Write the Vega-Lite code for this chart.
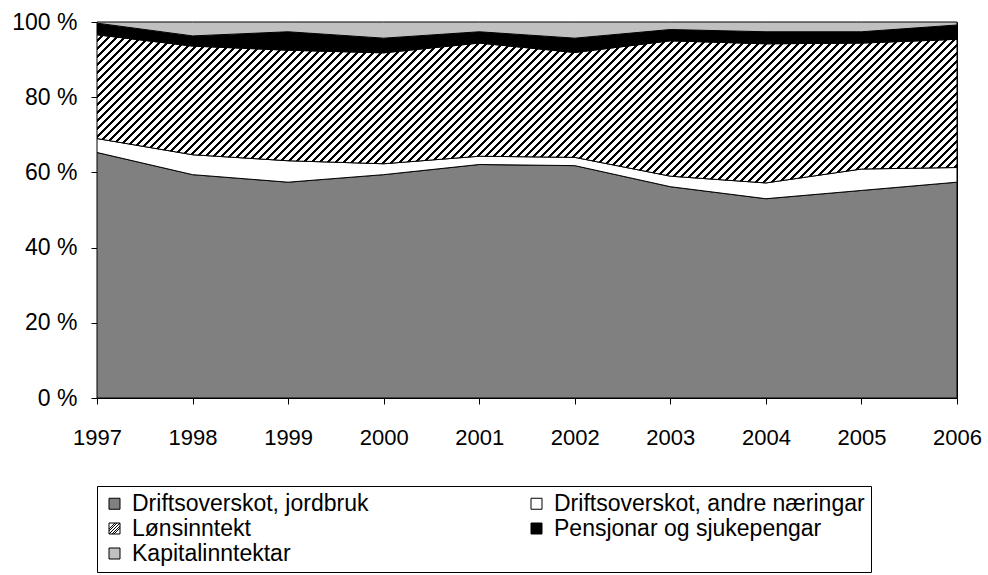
{
 "$schema": "https://vega.github.io/schema/vega-lite/v6.json",
 "autosize": {"type": "none"},
 "padding": {"left": 97, "top": 22, "right": 31, "bottom": 177},
 "width": 860,
 "height": 376,
 "background": "white",
 "config": {
  "font": "Liberation Sans",
  "view": {"stroke": "black", "strokeWidth": 1},
  "axis": {"grid": false, "domain": false, "tickColor": "black", "tickSize": 6, "labelColor": "black", "labelFontSize": 22, "labelFont": "Liberation Sans"}
 },
 "data": {"values": [
  {"year":1997,"type":"Driftsoverskot, jordbruk","v":65.3,"k":1},
  {"year":1997,"type":"Driftsoverskot, andre næringar","v":3.7,"k":2},
  {"year":1997,"type":"Lønsinntekt","v":27.6,"k":3},
  {"year":1997,"type":"Pensjonar og sjukepengar","v":3.1,"k":4},
  {"year":1997,"type":"Kapitalinntektar","v":0.3,"k":5},
  {"year":1998,"type":"Driftsoverskot, jordbruk","v":59.4,"k":1},
  {"year":1998,"type":"Driftsoverskot, andre næringar","v":5.3,"k":2},
  {"year":1998,"type":"Lønsinntekt","v":28.9,"k":3},
  {"year":1998,"type":"Pensjonar og sjukepengar","v":2.7,"k":4},
  {"year":1998,"type":"Kapitalinntektar","v":3.7,"k":5},
  {"year":1999,"type":"Driftsoverskot, jordbruk","v":57.4,"k":1},
  {"year":1999,"type":"Driftsoverskot, andre næringar","v":5.7,"k":2},
  {"year":1999,"type":"Lønsinntekt","v":29.4,"k":3},
  {"year":1999,"type":"Pensjonar og sjukepengar","v":4.9,"k":4},
  {"year":1999,"type":"Kapitalinntektar","v":2.6,"k":5},
  {"year":2000,"type":"Driftsoverskot, jordbruk","v":59.4,"k":1},
  {"year":2000,"type":"Driftsoverskot, andre næringar","v":2.9,"k":2},
  {"year":2000,"type":"Lønsinntekt","v":29.5,"k":3},
  {"year":2000,"type":"Pensjonar og sjukepengar","v":3.9,"k":4},
  {"year":2000,"type":"Kapitalinntektar","v":4.3,"k":5},
  {"year":2001,"type":"Driftsoverskot, jordbruk","v":62.1,"k":1},
  {"year":2001,"type":"Driftsoverskot, andre næringar","v":2.2,"k":2},
  {"year":2001,"type":"Lønsinntekt","v":30.1,"k":3},
  {"year":2001,"type":"Pensjonar og sjukepengar","v":3.0,"k":4},
  {"year":2001,"type":"Kapitalinntektar","v":2.6,"k":5},
  {"year":2002,"type":"Driftsoverskot, jordbruk","v":61.8,"k":1},
  {"year":2002,"type":"Driftsoverskot, andre næringar","v":2.2,"k":2},
  {"year":2002,"type":"Lønsinntekt","v":27.9,"k":3},
  {"year":2002,"type":"Pensjonar og sjukepengar","v":3.8,"k":4},
  {"year":2002,"type":"Kapitalinntektar","v":4.3,"k":5},
  {"year":2003,"type":"Driftsoverskot, jordbruk","v":56.2,"k":1},
  {"year":2003,"type":"Driftsoverskot, andre næringar","v":2.8,"k":2},
  {"year":2003,"type":"Lønsinntekt","v":36.0,"k":3},
  {"year":2003,"type":"Pensjonar og sjukepengar","v":3.0,"k":4},
  {"year":2003,"type":"Kapitalinntektar","v":2.0,"k":5},
  {"year":2004,"type":"Driftsoverskot, jordbruk","v":53.0,"k":1},
  {"year":2004,"type":"Driftsoverskot, andre næringar","v":4.2,"k":2},
  {"year":2004,"type":"Lønsinntekt","v":37.0,"k":3},
  {"year":2004,"type":"Pensjonar og sjukepengar","v":3.2,"k":4},
  {"year":2004,"type":"Kapitalinntektar","v":2.6,"k":5},
  {"year":2005,"type":"Driftsoverskot, jordbruk","v":55.2,"k":1},
  {"year":2005,"type":"Driftsoverskot, andre næringar","v":5.7,"k":2},
  {"year":2005,"type":"Lønsinntekt","v":33.5,"k":3},
  {"year":2005,"type":"Pensjonar og sjukepengar","v":3.0,"k":4},
  {"year":2005,"type":"Kapitalinntektar","v":2.6,"k":5},
  {"year":2006,"type":"Driftsoverskot, jordbruk","v":57.4,"k":1},
  {"year":2006,"type":"Driftsoverskot, andre næringar","v":3.9,"k":2},
  {"year":2006,"type":"Lønsinntekt","v":34.1,"k":3},
  {"year":2006,"type":"Pensjonar og sjukepengar","v":3.8,"k":4},
  {"year":2006,"type":"Kapitalinntektar","v":0.8,"k":5}
 ]},
 "mark": {"type": "area", "stroke": "black", "strokeWidth": 1, "interpolate": "linear"},
 "encoding": {
  "x": {"field": "year", "type": "quantitative", "scale": {"domain": [1997, 2006], "nice": false, "zero": false},
        "axis": {"values": [1997,1998,1999,2000,2001,2002,2003,2004,2005,2006], "format": "d", "title": null, "labelPadding": 23, "labelFlush": false}},
  "y": {"field": "v", "type": "quantitative", "stack": "zero", "scale": {"domain": [0, 100], "nice": false},
        "axis": {"values": [0,20,40,60,80,100], "labelExpr": "datum.value + ' %'", "title": null, "labelPadding": 14, "labelFontSize": 23}},
  "order": {"field": "k", "type": "quantitative"},
  "fill": {
   "condition": {"test": "datum.type === 'Lønsinntekt'", "value":
     {"gradient": "linear", "x1": 0, "y1": 0, "x2": 1.129, "y2": 0.194, "stops": [
{"offset":0,"color":"#fff"},{"offset":0.0048,"color":"#fff"},{"offset":0.0048,"color":"#000"},{"offset":0.008,"color":"#000"},
{"offset":0.008,"color":"#fff"},{"offset":0.0128,"color":"#fff"},{"offset":0.0128,"color":"#000"},{"offset":0.016,"color":"#000"},
{"offset":0.016,"color":"#fff"},{"offset":0.0208,"color":"#fff"},{"offset":0.0208,"color":"#000"},{"offset":0.024,"color":"#000"},
{"offset":0.024,"color":"#fff"},{"offset":0.0288,"color":"#fff"},{"offset":0.0288,"color":"#000"},{"offset":0.032,"color":"#000"},
{"offset":0.032,"color":"#fff"},{"offset":0.0368,"color":"#fff"},{"offset":0.0368,"color":"#000"},{"offset":0.04,"color":"#000"},
{"offset":0.04,"color":"#fff"},{"offset":0.0448,"color":"#fff"},{"offset":0.0448,"color":"#000"},{"offset":0.048,"color":"#000"},
{"offset":0.048,"color":"#fff"},{"offset":0.0528,"color":"#fff"},{"offset":0.0528,"color":"#000"},{"offset":0.056,"color":"#000"},
{"offset":0.056,"color":"#fff"},{"offset":0.0608,"color":"#fff"},{"offset":0.0608,"color":"#000"},{"offset":0.064,"color":"#000"},
{"offset":0.064,"color":"#fff"},{"offset":0.0688,"color":"#fff"},{"offset":0.0688,"color":"#000"},{"offset":0.072,"color":"#000"},
{"offset":0.072,"color":"#fff"},{"offset":0.0768,"color":"#fff"},{"offset":0.0768,"color":"#000"},{"offset":0.08,"color":"#000"},
{"offset":0.08,"color":"#fff"},{"offset":0.0848,"color":"#fff"},{"offset":0.0848,"color":"#000"},{"offset":0.088,"color":"#000"},
{"offset":0.088,"color":"#fff"},{"offset":0.0928,"color":"#fff"},{"offset":0.0928,"color":"#000"},{"offset":0.096,"color":"#000"},
{"offset":0.096,"color":"#fff"},{"offset":0.1008,"color":"#fff"},{"offset":0.1008,"color":"#000"},{"offset":0.104,"color":"#000"},
{"offset":0.104,"color":"#fff"},{"offset":0.1088,"color":"#fff"},{"offset":0.1088,"color":"#000"},{"offset":0.112,"color":"#000"},
{"offset":0.112,"color":"#fff"},{"offset":0.1168,"color":"#fff"},{"offset":0.1168,"color":"#000"},{"offset":0.12,"color":"#000"},
{"offset":0.12,"color":"#fff"},{"offset":0.1248,"color":"#fff"},{"offset":0.1248,"color":"#000"},{"offset":0.128,"color":"#000"},
{"offset":0.128,"color":"#fff"},{"offset":0.1328,"color":"#fff"},{"offset":0.1328,"color":"#000"},{"offset":0.136,"color":"#000"},
{"offset":0.136,"color":"#fff"},{"offset":0.1408,"color":"#fff"},{"offset":0.1408,"color":"#000"},{"offset":0.144,"color":"#000"},
{"offset":0.144,"color":"#fff"},{"offset":0.1488,"color":"#fff"},{"offset":0.1488,"color":"#000"},{"offset":0.152,"color":"#000"},
{"offset":0.152,"color":"#fff"},{"offset":0.1568,"color":"#fff"},{"offset":0.1568,"color":"#000"},{"offset":0.16,"color":"#000"},
{"offset":0.16,"color":"#fff"},{"offset":0.1648,"color":"#fff"},{"offset":0.1648,"color":"#000"},{"offset":0.168,"color":"#000"},
{"offset":0.168,"color":"#fff"},{"offset":0.1728,"color":"#fff"},{"offset":0.1728,"color":"#000"},{"offset":0.176,"color":"#000"},
{"offset":0.176,"color":"#fff"},{"offset":0.1808,"color":"#fff"},{"offset":0.1808,"color":"#000"},{"offset":0.184,"color":"#000"},
{"offset":0.184,"color":"#fff"},{"offset":0.1888,"color":"#fff"},{"offset":0.1888,"color":"#000"},{"offset":0.192,"color":"#000"},
{"offset":0.192,"color":"#fff"},{"offset":0.1968,"color":"#fff"},{"offset":0.1968,"color":"#000"},{"offset":0.2,"color":"#000"},
{"offset":0.2,"color":"#fff"},{"offset":0.2048,"color":"#fff"},{"offset":0.2048,"color":"#000"},{"offset":0.208,"color":"#000"},
{"offset":0.208,"color":"#fff"},{"offset":0.2128,"color":"#fff"},{"offset":0.2128,"color":"#000"},{"offset":0.216,"color":"#000"},
{"offset":0.216,"color":"#fff"},{"offset":0.2208,"color":"#fff"},{"offset":0.2208,"color":"#000"},{"offset":0.224,"color":"#000"},
{"offset":0.224,"color":"#fff"},{"offset":0.2288,"color":"#fff"},{"offset":0.2288,"color":"#000"},{"offset":0.232,"color":"#000"},
{"offset":0.232,"color":"#fff"},{"offset":0.2368,"color":"#fff"},{"offset":0.2368,"color":"#000"},{"offset":0.24,"color":"#000"},
{"offset":0.24,"color":"#fff"},{"offset":0.2448,"color":"#fff"},{"offset":0.2448,"color":"#000"},{"offset":0.248,"color":"#000"},
{"offset":0.248,"color":"#fff"},{"offset":0.2528,"color":"#fff"},{"offset":0.2528,"color":"#000"},{"offset":0.256,"color":"#000"},
{"offset":0.256,"color":"#fff"},{"offset":0.2608,"color":"#fff"},{"offset":0.2608,"color":"#000"},{"offset":0.264,"color":"#000"},
{"offset":0.264,"color":"#fff"},{"offset":0.2688,"color":"#fff"},{"offset":0.2688,"color":"#000"},{"offset":0.272,"color":"#000"},
{"offset":0.272,"color":"#fff"},{"offset":0.2768,"color":"#fff"},{"offset":0.2768,"color":"#000"},{"offset":0.28,"color":"#000"},
{"offset":0.28,"color":"#fff"},{"offset":0.2848,"color":"#fff"},{"offset":0.2848,"color":"#000"},{"offset":0.288,"color":"#000"},
{"offset":0.288,"color":"#fff"},{"offset":0.2928,"color":"#fff"},{"offset":0.2928,"color":"#000"},{"offset":0.296,"color":"#000"},
{"offset":0.296,"color":"#fff"},{"offset":0.3008,"color":"#fff"},{"offset":0.3008,"color":"#000"},{"offset":0.304,"color":"#000"},
{"offset":0.304,"color":"#fff"},{"offset":0.3088,"color":"#fff"},{"offset":0.3088,"color":"#000"},{"offset":0.312,"color":"#000"},
{"offset":0.312,"color":"#fff"},{"offset":0.3168,"color":"#fff"},{"offset":0.3168,"color":"#000"},{"offset":0.32,"color":"#000"},
{"offset":0.32,"color":"#fff"},{"offset":0.3248,"color":"#fff"},{"offset":0.3248,"color":"#000"},{"offset":0.328,"color":"#000"},
{"offset":0.328,"color":"#fff"},{"offset":0.3328,"color":"#fff"},{"offset":0.3328,"color":"#000"},{"offset":0.336,"color":"#000"},
{"offset":0.336,"color":"#fff"},{"offset":0.3408,"color":"#fff"},{"offset":0.3408,"color":"#000"},{"offset":0.344,"color":"#000"},
{"offset":0.344,"color":"#fff"},{"offset":0.3488,"color":"#fff"},{"offset":0.3488,"color":"#000"},{"offset":0.352,"color":"#000"},
{"offset":0.352,"color":"#fff"},{"offset":0.3568,"color":"#fff"},{"offset":0.3568,"color":"#000"},{"offset":0.36,"color":"#000"},
{"offset":0.36,"color":"#fff"},{"offset":0.3648,"color":"#fff"},{"offset":0.3648,"color":"#000"},{"offset":0.368,"color":"#000"},
{"offset":0.368,"color":"#fff"},{"offset":0.3728,"color":"#fff"},{"offset":0.3728,"color":"#000"},{"offset":0.376,"color":"#000"},
{"offset":0.376,"color":"#fff"},{"offset":0.3808,"color":"#fff"},{"offset":0.3808,"color":"#000"},{"offset":0.384,"color":"#000"},
{"offset":0.384,"color":"#fff"},{"offset":0.3888,"color":"#fff"},{"offset":0.3888,"color":"#000"},{"offset":0.392,"color":"#000"},
{"offset":0.392,"color":"#fff"},{"offset":0.3968,"color":"#fff"},{"offset":0.3968,"color":"#000"},{"offset":0.4,"color":"#000"},
{"offset":0.4,"color":"#fff"},{"offset":0.4048,"color":"#fff"},{"offset":0.4048,"color":"#000"},{"offset":0.408,"color":"#000"},
{"offset":0.408,"color":"#fff"},{"offset":0.4128,"color":"#fff"},{"offset":0.4128,"color":"#000"},{"offset":0.416,"color":"#000"},
{"offset":0.416,"color":"#fff"},{"offset":0.4208,"color":"#fff"},{"offset":0.4208,"color":"#000"},{"offset":0.424,"color":"#000"},
{"offset":0.424,"color":"#fff"},{"offset":0.4288,"color":"#fff"},{"offset":0.4288,"color":"#000"},{"offset":0.432,"color":"#000"},
{"offset":0.432,"color":"#fff"},{"offset":0.4368,"color":"#fff"},{"offset":0.4368,"color":"#000"},{"offset":0.44,"color":"#000"},
{"offset":0.44,"color":"#fff"},{"offset":0.4448,"color":"#fff"},{"offset":0.4448,"color":"#000"},{"offset":0.448,"color":"#000"},
{"offset":0.448,"color":"#fff"},{"offset":0.4528,"color":"#fff"},{"offset":0.4528,"color":"#000"},{"offset":0.456,"color":"#000"},
{"offset":0.456,"color":"#fff"},{"offset":0.4608,"color":"#fff"},{"offset":0.4608,"color":"#000"},{"offset":0.464,"color":"#000"},
{"offset":0.464,"color":"#fff"},{"offset":0.4688,"color":"#fff"},{"offset":0.4688,"color":"#000"},{"offset":0.472,"color":"#000"},
{"offset":0.472,"color":"#fff"},{"offset":0.4768,"color":"#fff"},{"offset":0.4768,"color":"#000"},{"offset":0.48,"color":"#000"},
{"offset":0.48,"color":"#fff"},{"offset":0.4848,"color":"#fff"},{"offset":0.4848,"color":"#000"},{"offset":0.488,"color":"#000"},
{"offset":0.488,"color":"#fff"},{"offset":0.4928,"color":"#fff"},{"offset":0.4928,"color":"#000"},{"offset":0.496,"color":"#000"},
{"offset":0.496,"color":"#fff"},{"offset":0.5008,"color":"#fff"},{"offset":0.5008,"color":"#000"},{"offset":0.504,"color":"#000"},
{"offset":0.504,"color":"#fff"},{"offset":0.5088,"color":"#fff"},{"offset":0.5088,"color":"#000"},{"offset":0.512,"color":"#000"},
{"offset":0.512,"color":"#fff"},{"offset":0.5168,"color":"#fff"},{"offset":0.5168,"color":"#000"},{"offset":0.52,"color":"#000"},
{"offset":0.52,"color":"#fff"},{"offset":0.5248,"color":"#fff"},{"offset":0.5248,"color":"#000"},{"offset":0.528,"color":"#000"},
{"offset":0.528,"color":"#fff"},{"offset":0.5328,"color":"#fff"},{"offset":0.5328,"color":"#000"},{"offset":0.536,"color":"#000"},
{"offset":0.536,"color":"#fff"},{"offset":0.5408,"color":"#fff"},{"offset":0.5408,"color":"#000"},{"offset":0.544,"color":"#000"},
{"offset":0.544,"color":"#fff"},{"offset":0.5488,"color":"#fff"},{"offset":0.5488,"color":"#000"},{"offset":0.552,"color":"#000"},
{"offset":0.552,"color":"#fff"},{"offset":0.5568,"color":"#fff"},{"offset":0.5568,"color":"#000"},{"offset":0.56,"color":"#000"},
{"offset":0.56,"color":"#fff"},{"offset":0.5648,"color":"#fff"},{"offset":0.5648,"color":"#000"},{"offset":0.568,"color":"#000"},
{"offset":0.568,"color":"#fff"},{"offset":0.5728,"color":"#fff"},{"offset":0.5728,"color":"#000"},{"offset":0.576,"color":"#000"},
{"offset":0.576,"color":"#fff"},{"offset":0.5808,"color":"#fff"},{"offset":0.5808,"color":"#000"},{"offset":0.584,"color":"#000"},
{"offset":0.584,"color":"#fff"},{"offset":0.5888,"color":"#fff"},{"offset":0.5888,"color":"#000"},{"offset":0.592,"color":"#000"},
{"offset":0.592,"color":"#fff"},{"offset":0.5968,"color":"#fff"},{"offset":0.5968,"color":"#000"},{"offset":0.6,"color":"#000"},
{"offset":0.6,"color":"#fff"},{"offset":0.6048,"color":"#fff"},{"offset":0.6048,"color":"#000"},{"offset":0.608,"color":"#000"},
{"offset":0.608,"color":"#fff"},{"offset":0.6128,"color":"#fff"},{"offset":0.6128,"color":"#000"},{"offset":0.616,"color":"#000"},
{"offset":0.616,"color":"#fff"},{"offset":0.6208,"color":"#fff"},{"offset":0.6208,"color":"#000"},{"offset":0.624,"color":"#000"},
{"offset":0.624,"color":"#fff"},{"offset":0.6288,"color":"#fff"},{"offset":0.6288,"color":"#000"},{"offset":0.632,"color":"#000"},
{"offset":0.632,"color":"#fff"},{"offset":0.6368,"color":"#fff"},{"offset":0.6368,"color":"#000"},{"offset":0.64,"color":"#000"},
{"offset":0.64,"color":"#fff"},{"offset":0.6448,"color":"#fff"},{"offset":0.6448,"color":"#000"},{"offset":0.648,"color":"#000"},
{"offset":0.648,"color":"#fff"},{"offset":0.6528,"color":"#fff"},{"offset":0.6528,"color":"#000"},{"offset":0.656,"color":"#000"},
{"offset":0.656,"color":"#fff"},{"offset":0.6608,"color":"#fff"},{"offset":0.6608,"color":"#000"},{"offset":0.664,"color":"#000"},
{"offset":0.664,"color":"#fff"},{"offset":0.6688,"color":"#fff"},{"offset":0.6688,"color":"#000"},{"offset":0.672,"color":"#000"},
{"offset":0.672,"color":"#fff"},{"offset":0.6768,"color":"#fff"},{"offset":0.6768,"color":"#000"},{"offset":0.68,"color":"#000"},
{"offset":0.68,"color":"#fff"},{"offset":0.6848,"color":"#fff"},{"offset":0.6848,"color":"#000"},{"offset":0.688,"color":"#000"},
{"offset":0.688,"color":"#fff"},{"offset":0.6928,"color":"#fff"},{"offset":0.6928,"color":"#000"},{"offset":0.696,"color":"#000"},
{"offset":0.696,"color":"#fff"},{"offset":0.7008,"color":"#fff"},{"offset":0.7008,"color":"#000"},{"offset":0.704,"color":"#000"},
{"offset":0.704,"color":"#fff"},{"offset":0.7088,"color":"#fff"},{"offset":0.7088,"color":"#000"},{"offset":0.712,"color":"#000"},
{"offset":0.712,"color":"#fff"},{"offset":0.7168,"color":"#fff"},{"offset":0.7168,"color":"#000"},{"offset":0.72,"color":"#000"},
{"offset":0.72,"color":"#fff"},{"offset":0.7248,"color":"#fff"},{"offset":0.7248,"color":"#000"},{"offset":0.728,"color":"#000"},
{"offset":0.728,"color":"#fff"},{"offset":0.7328,"color":"#fff"},{"offset":0.7328,"color":"#000"},{"offset":0.736,"color":"#000"},
{"offset":0.736,"color":"#fff"},{"offset":0.7408,"color":"#fff"},{"offset":0.7408,"color":"#000"},{"offset":0.744,"color":"#000"},
{"offset":0.744,"color":"#fff"},{"offset":0.7488,"color":"#fff"},{"offset":0.7488,"color":"#000"},{"offset":0.752,"color":"#000"},
{"offset":0.752,"color":"#fff"},{"offset":0.7568,"color":"#fff"},{"offset":0.7568,"color":"#000"},{"offset":0.76,"color":"#000"},
{"offset":0.76,"color":"#fff"},{"offset":0.7648,"color":"#fff"},{"offset":0.7648,"color":"#000"},{"offset":0.768,"color":"#000"},
{"offset":0.768,"color":"#fff"},{"offset":0.7728,"color":"#fff"},{"offset":0.7728,"color":"#000"},{"offset":0.776,"color":"#000"},
{"offset":0.776,"color":"#fff"},{"offset":0.7808,"color":"#fff"},{"offset":0.7808,"color":"#000"},{"offset":0.784,"color":"#000"},
{"offset":0.784,"color":"#fff"},{"offset":0.7888,"color":"#fff"},{"offset":0.7888,"color":"#000"},{"offset":0.792,"color":"#000"},
{"offset":0.792,"color":"#fff"},{"offset":0.7968,"color":"#fff"},{"offset":0.7968,"color":"#000"},{"offset":0.8,"color":"#000"},
{"offset":0.8,"color":"#fff"},{"offset":0.8048,"color":"#fff"},{"offset":0.8048,"color":"#000"},{"offset":0.808,"color":"#000"},
{"offset":0.808,"color":"#fff"},{"offset":0.8128,"color":"#fff"},{"offset":0.8128,"color":"#000"},{"offset":0.816,"color":"#000"},
{"offset":0.816,"color":"#fff"},{"offset":0.8208,"color":"#fff"},{"offset":0.8208,"color":"#000"},{"offset":0.824,"color":"#000"},
{"offset":0.824,"color":"#fff"},{"offset":0.8288,"color":"#fff"},{"offset":0.8288,"color":"#000"},{"offset":0.832,"color":"#000"},
{"offset":0.832,"color":"#fff"},{"offset":0.8368,"color":"#fff"},{"offset":0.8368,"color":"#000"},{"offset":0.84,"color":"#000"},
{"offset":0.84,"color":"#fff"},{"offset":0.8448,"color":"#fff"},{"offset":0.8448,"color":"#000"},{"offset":0.848,"color":"#000"},
{"offset":0.848,"color":"#fff"},{"offset":0.8528,"color":"#fff"},{"offset":0.8528,"color":"#000"},{"offset":0.856,"color":"#000"},
{"offset":0.856,"color":"#fff"},{"offset":0.8608,"color":"#fff"},{"offset":0.8608,"color":"#000"},{"offset":0.864,"color":"#000"},
{"offset":0.864,"color":"#fff"},{"offset":0.8688,"color":"#fff"},{"offset":0.8688,"color":"#000"},{"offset":0.872,"color":"#000"},
{"offset":0.872,"color":"#fff"},{"offset":0.8768,"color":"#fff"},{"offset":0.8768,"color":"#000"},{"offset":0.88,"color":"#000"},
{"offset":0.88,"color":"#fff"},{"offset":0.8848,"color":"#fff"},{"offset":0.8848,"color":"#000"},{"offset":0.888,"color":"#000"},
{"offset":0.888,"color":"#fff"},{"offset":0.8928,"color":"#fff"},{"offset":0.8928,"color":"#000"},{"offset":0.896,"color":"#000"},
{"offset":0.896,"color":"#fff"},{"offset":0.9008,"color":"#fff"},{"offset":0.9008,"color":"#000"},{"offset":0.904,"color":"#000"},
{"offset":0.904,"color":"#fff"},{"offset":0.9088,"color":"#fff"},{"offset":0.9088,"color":"#000"},{"offset":0.912,"color":"#000"},
{"offset":0.912,"color":"#fff"},{"offset":0.9168,"color":"#fff"},{"offset":0.9168,"color":"#000"},{"offset":0.92,"color":"#000"},
{"offset":0.92,"color":"#fff"},{"offset":0.9248,"color":"#fff"},{"offset":0.9248,"color":"#000"},{"offset":0.928,"color":"#000"},
{"offset":0.928,"color":"#fff"},{"offset":0.9328,"color":"#fff"},{"offset":0.9328,"color":"#000"},{"offset":0.936,"color":"#000"},
{"offset":0.936,"color":"#fff"},{"offset":0.9408,"color":"#fff"},{"offset":0.9408,"color":"#000"},{"offset":0.944,"color":"#000"},
{"offset":0.944,"color":"#fff"},{"offset":0.9488,"color":"#fff"},{"offset":0.9488,"color":"#000"},{"offset":0.952,"color":"#000"},
{"offset":0.952,"color":"#fff"},{"offset":0.9568,"color":"#fff"},{"offset":0.9568,"color":"#000"},{"offset":0.96,"color":"#000"},
{"offset":0.96,"color":"#fff"},{"offset":0.9648,"color":"#fff"},{"offset":0.9648,"color":"#000"},{"offset":0.968,"color":"#000"},
{"offset":0.968,"color":"#fff"},{"offset":0.9728,"color":"#fff"},{"offset":0.9728,"color":"#000"},{"offset":0.976,"color":"#000"},
{"offset":0.976,"color":"#fff"},{"offset":0.9808,"color":"#fff"},{"offset":0.9808,"color":"#000"},{"offset":0.984,"color":"#000"},
{"offset":0.984,"color":"#fff"},{"offset":0.9888,"color":"#fff"},{"offset":0.9888,"color":"#000"},{"offset":0.992,"color":"#000"},
{"offset":0.992,"color":"#fff"},{"offset":0.9968,"color":"#fff"},{"offset":0.9968,"color":"#000"},{"offset":1,"color":"#000"}
     ]}},
   "field": "type", "type": "nominal",
   "scale": {"domain": ["Driftsoverskot, jordbruk", "Driftsoverskot, andre næringar", "Lønsinntekt", "Pensjonar og sjukepengar", "Kapitalinntektar"],
    "range": ["#808080", "#ffffff", "#ffffff", "#000000", "#c0c0c0"]},
   "legend": {"title": null, "orient": "none", "legendX": 0, "legendY": 464, "columns": 2, "direction": "horizontal", "strokeColor": "black", "fillColor": "white", "padding": 6,
    "symbolType": "square", "symbolSize": 121, "symbolStrokeColor": "black", "symbolStrokeWidth": 1, "symbolOpacity": 1,
    "labelFontSize": 23, "labelColor": "black", "labelFont": "Liberation Sans", "labelLimit": 0, "labelOffset": 6, "columnPadding": 156, "rowPadding": 1,
    "encode": {"symbols": {"update": {
      "stroke": {"value": "black"},
      "strokeWidth": {"value": 1},
      "shape": {"signal": "datum.value === 'Lønsinntekt' ? 'M-1,-1H1V1H-1Z M-1,0.1L0.1,-1 M-1,0.45L0.45,-1 M-1,1L1,-1 M-0.45,1L1,-0.45 M-0.1,1L1,-0.1' : 'square'"}
    }}}}
  }
 }
}
